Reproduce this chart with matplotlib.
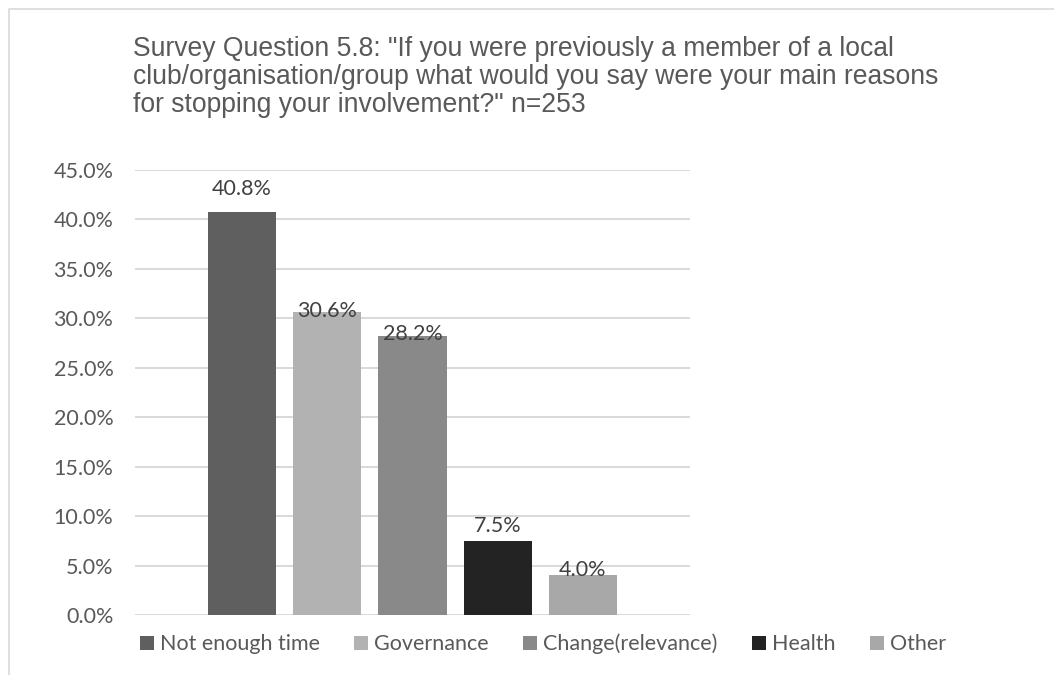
"""
Bar chart of reasons for stopping involvement in local groups (survey question 5.8)
"""
import matplotlib
matplotlib.use('Agg')
from matplotlib import pyplot as plt
from matplotlib.lines import Line2D
from matplotlib.patches import Patch


REASONS = ['Not enough time', 'Governance', 'Change(relevance)', 'Health', 'Other']
SHARES = [40.8, 30.6, 28.2, 7.5, 4.0]
COLOURS = ['#5f5f5f', '#b2b2b2', '#898989', '#232323', '#a8a8a8']
Y_TICKS = [0, 5, 10, 15, 20, 25, 30, 35, 40, 45]
# baseline of each value label relative to the top of its bar, in points
LABEL_OFFSETS = [12.2, -3.6, -2.9, 6.5, -0.7]

TITLE = ('Survey Question 5.8: "If you were previously a member of a local\n'
         'club/organisation/group what would you say were your main reasons\n'
         'for stopping your involvement?" n=253')

TEXT_COLOUR = '#595959'
GRID_COLOUR = '#d9d9d9'
LABEL_FONT = 'Lato'
LABEL_SIZE = 15.5


def draw_chart(save_path='out.png'):
    """
    draw the bar chart and save it as png
    """
    fig = plt.figure(figsize=(10.54, 6.75), dpi=100)
    ax = fig.add_axes([135 / 1054, 1 - 615 / 675, 555 / 1054, 445 / 675])

    positions = list(range(len(REASONS)))
    bars = ax.bar(positions, SHARES, width=0.8, color=COLOURS, zorder=3)

    for bar, value, offset in zip(bars, SHARES, LABEL_OFFSETS):
        ax.annotate(f'{value:.1f}%',
                    (bar.get_x() + bar.get_width() / 2, bar.get_height()),
                    xytext=(0, offset), textcoords='offset points',
                    ha='center', va='baseline', fontsize=LABEL_SIZE,
                    family=LABEL_FONT, color='#404040', zorder=4)

    ax.set_xlim(-1.256, len(REASONS) - 1 + 1.256)
    ax.set_ylim(0, 45)
    ax.set_yticks(Y_TICKS)
    ax.set_yticklabels([f'{tick:.1f}%' for tick in Y_TICKS],
                       family=LABEL_FONT, fontsize=LABEL_SIZE, color=TEXT_COLOUR)
    ax.set_xticks([])
    ax.tick_params(axis='y', length=0, pad=15.5)
    ax.grid(axis='y', color=GRID_COLOUR, linewidth=1.4, zorder=0)
    ax.set_axisbelow(True)
    for spine in ax.spines.values():
        spine.set_visible(False)

    fig.text(133 / 1054, 1 - 77 / 675, TITLE, ha='left', va='center',
             fontsize=19.1, family='Liberation Sans', color=TEXT_COLOUR,
             linespacing=1.1)

    handles = [Patch(facecolor=colour, edgecolor='none')
               for colour in COLOURS]
    legend = fig.legend(handles, REASONS, ncol=len(REASONS), loc='center',
                        bbox_to_anchor=(0.5152, 1 - 644 / 675), frameon=False,
                        prop={'family': LABEL_FONT, 'size': LABEL_SIZE},
                        handlelength=0.65, handleheight=0.65,
                        handletextpad=0.28, columnspacing=1.6)
    for text in legend.get_texts():
        text.set_color(TEXT_COLOUR)

    # light chart border along the top and left edges
    fig.add_artist(Line2D([9 / 1054, 9 / 1054, 1], [0, 1 - 9 / 675, 1 - 9 / 675],
                          transform=fig.transFigure, color=GRID_COLOUR,
                          linewidth=1.2))

    fig.savefig(save_path, dpi=100)
    plt.close(fig)


if __name__ == '__main__':
    draw_chart()
